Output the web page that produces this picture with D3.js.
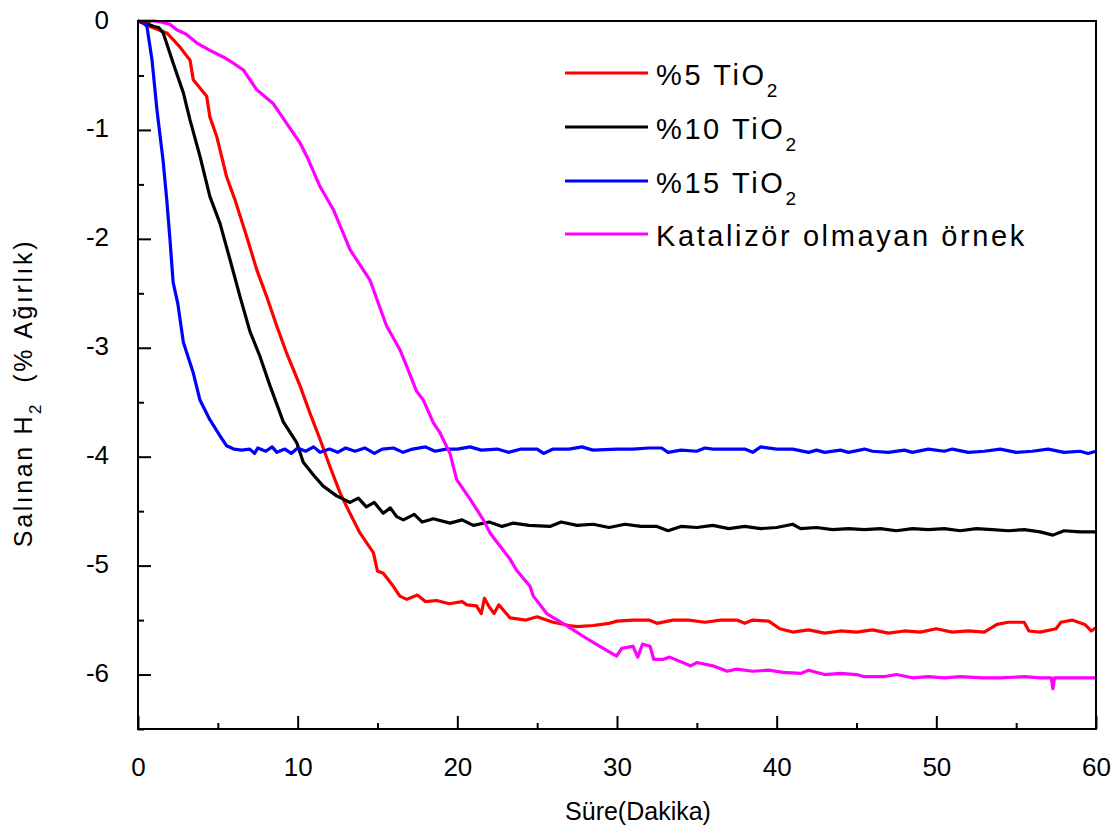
<!DOCTYPE html>
<html>
<head>
<meta charset="utf-8">
<script src="https://cdn.jsdelivr.net/npm/d3@7"></script>
<style>
  html, body { margin: 0; padding: 0; background: #fff; }
  svg { display: block; }
  text { font-family: "Liberation Sans", Arial, sans-serif; fill: #000; }
</style>
</head>
<body>
<svg id="chart" width="1116" height="831"></svg>
<script>
// Hydrogen release curves, time in minutes vs. released H2 (% weight)
const tio2_5 = [
  [0,0],[0.75,-0.05],[1.8,-0.11],[2.2,-0.17],[2.63,-0.24],[3.26,-0.36],[3.46,-0.54],[4.3,-0.69],
  [4.5,-0.88],[4.93,-1.06],[5.55,-1.43],[6.07,-1.64],[6.81,-1.98],[7.43,-2.28],[8.06,-2.53],
  [8.69,-2.8],[9.31,-3.05],[10.15,-3.35],[10.77,-3.6],[11.4,-3.84],[12.02,-4.09],[12.65,-4.33],
  [13.07,-4.46],[13.9,-4.7],[14.74,-4.88],[15.0,-5.05],[15.36,-5.07],[15.99,-5.19],[16.4,-5.28],
  [16.83,-5.31],[17.5,-5.27],[18.0,-5.33],[18.7,-5.32],[19.5,-5.35],[20.3,-5.33],[20.6,-5.36],
  [21.2,-5.37],[21.5,-5.44],[21.7,-5.3],[22,-5.38],[22.3,-5.44],[22.6,-5.36],[23.3,-5.48],
  [24.3,-5.5],[25,-5.47],[25.4,-5.49],[26,-5.52],[27,-5.55],[27.5,-5.56],[28.5,-5.55],[29.5,-5.53],
  [30,-5.51],[31,-5.5],[32,-5.5],[32.5,-5.53],[33.5,-5.5],[34.5,-5.5],[35.5,-5.52],[36.5,-5.5],
  [37.5,-5.5],[38,-5.53],[38.5,-5.5],[39.5,-5.51],[40.2,-5.58],[41,-5.61],[42,-5.59],[43,-5.62],
  [44,-5.6],[45,-5.61],[46,-5.59],[47,-5.62],[48,-5.6],[49,-5.61],[50,-5.58],[51,-5.61],[52,-5.6],
  [53,-5.61],[53.8,-5.54],[54.5,-5.52],[55.5,-5.52],[55.8,-5.6],[56.5,-5.61],[57.5,-5.58],
  [57.8,-5.52],[58.5,-5.5],[59.3,-5.54],[59.7,-5.6],[60,-5.57]
];
const tio2_10 = [
  [0,0],[0.5,-0.02],[1.0,-0.05],[1.3,-0.06],[1.58,-0.11],[2.21,-0.39],[2.84,-0.66],[3.26,-0.91],
  [3.88,-1.24],[4.5,-1.61],[5.14,-1.86],[5.76,-2.19],[6.39,-2.53],[7.01,-2.85],[7.64,-3.08],
  [8.27,-3.35],[9.1,-3.68],[9.94,-3.87],[10.35,-4.05],[11.0,-4.17],[11.6,-4.27],[12.44,-4.36],
  [13.28,-4.42],[13.8,-4.38],[14.3,-4.46],[14.8,-4.42],[15.36,-4.52],[15.8,-4.47],[16.2,-4.55],
  [16.62,-4.58],[17.3,-4.53],[17.8,-4.6],[18.5,-4.57],[19.54,-4.61],[20.3,-4.58],[21,-4.63],
  [22,-4.6],[22.8,-4.64],[23.5,-4.61],[24.5,-4.63],[25.8,-4.64],[26.5,-4.6],[27.5,-4.63],
  [28.5,-4.62],[29.5,-4.65],[30.5,-4.62],[31.5,-4.64],[32.5,-4.64],[33.2,-4.68],[34,-4.64],
  [35,-4.65],[36,-4.63],[37,-4.66],[38,-4.64],[39,-4.66],[40,-4.65],[41,-4.62],[41.5,-4.66],
  [42.5,-4.65],[43.5,-4.67],[44.5,-4.66],[45.5,-4.67],[46.5,-4.66],[47.5,-4.68],[48.5,-4.66],
  [49.5,-4.67],[50.5,-4.66],[51.5,-4.68],[52.5,-4.66],[53.5,-4.67],[54.5,-4.68],[55.5,-4.67],
  [56.5,-4.69],[57.3,-4.72],[58,-4.68],[59,-4.69],[60,-4.69]
];
const tio2_15 = [
  [0,0],[0.3,-0.01],[0.56,-0.05],[0.88,-0.36],[1.19,-0.82],[1.57,-1.28],[1.8,-1.64],[2.0,-2.0],
  [2.2,-2.4],[2.5,-2.6],[2.84,-2.95],[3.46,-3.23],[3.88,-3.48],[4.5,-3.66],[5.14,-3.81],
  [5.55,-3.9],[6.0,-3.93],[6.5,-3.94],[7.0,-3.93],[7.3,-3.97],[7.5,-3.92],[8.0,-3.95],[8.4,-3.91],
  [8.7,-3.96],[9.2,-3.93],[9.6,-3.97],[10.0,-3.92],[10.5,-3.95],[11,-3.91],[11.4,-3.96],[12,-3.93],
  [12.5,-3.96],[13,-3.92],[13.6,-3.95],[14.2,-3.92],[14.8,-3.97],[15.3,-3.93],[16,-3.92],
  [16.6,-3.96],[17.2,-3.93],[18,-3.91],[18.6,-3.95],[19.3,-3.93],[20,-3.93],[20.8,-3.91],
  [21.5,-3.94],[22.5,-3.93],[23.2,-3.96],[24,-3.93],[25,-3.93],[25.4,-3.97],[26,-3.93],[27,-3.93],
  [27.8,-3.91],[28.5,-3.94],[30,-3.93],[31,-3.93],[32,-3.92],[32.8,-3.92],[33.2,-3.96],[34,-3.94],
  [35.0,-3.95],[35.5,-3.92],[36,-3.93],[37,-3.93],[38,-3.93],[38.5,-3.96],[39,-3.91],[40,-3.93],
  [41,-3.93],[42,-3.96],[42.5,-3.94],[43,-3.96],[44,-3.94],[44.5,-3.96],[45.5,-3.93],[46,-3.95],
  [47,-3.96],[48,-3.94],[48.5,-3.96],[49.5,-3.93],[50.5,-3.95],[51,-3.93],[52,-3.96],[53,-3.95],
  [54,-3.93],[55,-3.96],[56,-3.95],[57,-3.93],[58,-3.96],[59,-3.95],[59.5,-3.97],[60,-3.95]
];
const noCatalyst = [
  [0,0],[1.0,0.0],[1.5,-0.01],[2.0,-0.03],[2.42,-0.08],[3.0,-0.12],[3.67,-0.2],[4.5,-0.27],
  [5.34,-0.33],[6.0,-0.39],[6.6,-0.45],[7.43,-0.63],[8.48,-0.76],[9.31,-0.94],[10.15,-1.12],
  [10.6,-1.25],[11.4,-1.52],[12.23,-1.73],[13.28,-2.1],[14.53,-2.38],[15.57,-2.8],[16.41,-3.02],
  [16.83,-3.17],[17.45,-3.4],[17.87,-3.48],[18.5,-3.69],[18.91,-3.78],[19.54,-3.97],[19.96,-4.21],
  [20.8,-4.39],[21.63,-4.58],[22.05,-4.7],[22.67,-4.82],[23.3,-4.94],[23.7,-5.04],[24.55,-5.19],
  [24.76,-5.28],[25.6,-5.44],[26.5,-5.52],[27.26,-5.59],[28.0,-5.66],[28.9,-5.74],[29.97,-5.83],
  [30.3,-5.76],[31,-5.74],[31.3,-5.84],[31.6,-5.72],[32.07,-5.74],[32.3,-5.86],[32.9,-5.86],
  [33.3,-5.84],[34.6,-5.92],[35,-5.89],[36,-5.92],[36.9,-5.97],[37.5,-5.95],[38.5,-5.97],
  [39.5,-5.96],[40.4,-5.98],[41.5,-5.99],[42,-5.96],[43,-6.0],[44,-5.99],[45,-6.0],[45.5,-6.02],
  [46.7,-6.02],[47.5,-6.0],[48.5,-6.03],[49.5,-6.02],[50.5,-6.03],[51.5,-6.02],[52.9,-6.03],
  [54,-6.03],[55.5,-6.02],[56.5,-6.03],[57.2,-6.03],[57.3,-6.13],[57.4,-6.03],[58.5,-6.03],
  [59.8,-6.03],[60,-6.03]
];

const seriesNames = [["%5 TiO", "2"], ["%10 TiO", "2"], ["%15 TiO", "2"], ["Katalizör olmayan örnek", ""]];
const seriesColors = ["#ff0000", "#000000", "#0000ff", "#ff00ff"];
const seriesData = [tio2_5, tio2_10, tio2_15, noCatalyst];

const xMajorTicks = [0, 10, 20, 30, 40, 50, 60];
const xMinorTicks = [5, 15, 25, 35, 45, 55];
const yMajorTicks = [0, -1, -2, -3, -4, -5, -6];
const yMinorTicks = [-0.5, -1.5, -2.5, -3.5, -4.5, -5.5, -6.5];

const plotLeft = 138, plotRight = 1096, plotTop = 21, plotBottom = 729;
const svg = d3.select("#chart");

const x = d3.scaleLinear().domain([0, 60]).range([plotLeft, plotRight]);
const y = d3.scaleLinear().domain([-6.5, 0]).range([plotBottom, plotTop]);

// data lines (later series drawn on top)
const line = d3.line().x(d => x(d[0])).y(d => y(d[1]));
svg.append("g").selectAll("path")
  .data(seriesData)
  .join("path")
  .attr("d", line)
  .attr("fill", "none")
  .attr("stroke", (d, i) => seriesColors[i])
  .attr("stroke-width", 3.2)
  .attr("stroke-linejoin", "round");

// axes with inward ticks
const yAxis = svg.append("g").attr("transform", `translate(${plotLeft},0)`)
  .call(d3.axisLeft(y).tickValues(yMajorTicks).tickSize(-13).tickPadding(29).tickFormat(d => d === 0 ? "0" : "-" + Math.abs(d)));
svg.append("g").attr("transform", `translate(${plotLeft},0)`)
  .call(d3.axisLeft(y).tickValues(yMinorTicks).tickSize(-6).tickFormat(""));
const xAxis = svg.append("g").attr("transform", `translate(0,${plotBottom})`)
  .call(d3.axisBottom(x).tickValues(xMajorTicks).tickSize(-13).tickPadding(0));
svg.append("g").attr("transform", `translate(0,${plotBottom})`)
  .call(d3.axisBottom(x).tickValues(xMinorTicks).tickSize(-6).tickFormat(""));

svg.selectAll(".domain").remove();
svg.selectAll(".tick line").attr("stroke", "#000").attr("stroke-width", 2);
yAxis.selectAll("text").attr("font-size", 26).attr("dy", null).attr("y", 7)
  .style("font-family", "'Liberation Sans', Arial, sans-serif");
xAxis.selectAll("text").attr("font-size", 26).attr("dy", null).attr("y", 47)
  .style("font-family", "'Liberation Sans', Arial, sans-serif");

// frame
svg.append("rect")
  .attr("x", plotLeft).attr("y", plotTop)
  .attr("width", plotRight - plotLeft).attr("height", plotBottom - plotTop)
  .attr("fill", "none").attr("stroke", "#000").attr("stroke-width", 2);

// axis titles
svg.append("text")
  .attr("x", 638).attr("y", 820)
  .attr("text-anchor", "middle")
  .attr("font-size", 25)
  .attr("letter-spacing", 0)
  .text("Süre(Dakika)");

const yTitle = svg.append("text")
  .attr("transform", "translate(32,393) rotate(-90)")
  .attr("text-anchor", "middle")
  .attr("font-size", 25)
  .attr("letter-spacing", 2.6);
yTitle.append("tspan").text("Salınan H");
yTitle.append("tspan").attr("font-size", 17).attr("dy", 9).text("2");
yTitle.append("tspan").attr("dy", -9).text("\u00a0\u00a0(% Ağırlık)");

// legend
const legend = svg.append("g");
const rowY = [73, 127, 181, 234];
seriesNames.forEach((name, i) => {
  legend.append("line")
    .attr("x1", 565).attr("x2", 648)
    .attr("y1", rowY[i]).attr("y2", rowY[i])
    .attr("stroke", seriesColors[i]).attr("stroke-width", 3);
  const t = legend.append("text")
    .attr("x", 656).attr("y", rowY[i] + 12)
    .attr("font-size", 29)
    .attr("letter-spacing", 2.6);
  t.append("tspan").text(name[0]);
  if (name[1]) t.append("tspan").attr("font-size", 19).attr("dy", 12).text(name[1]);
});
</script>
</body>
</html>
